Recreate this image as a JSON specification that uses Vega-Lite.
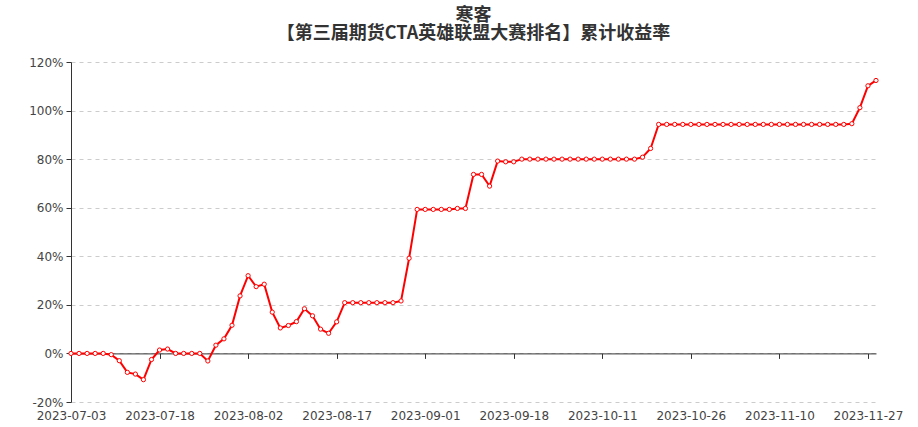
{
  "$schema": "https://vega.github.io/schema/vega-lite/v6.json",
  "width": 805,
  "height": 340,
  "autosize": {"type": "none"},
  "padding": {"left": 71, "top": 62, "right": 42, "bottom": 25},
  "background": "white",
  "title": {
    "text": ["寒客", "【第三届期货CTA英雄联盟大赛排名】累计收益率"],
    "font": "Noto Sans CJK SC",
    "fontSize": 18,
    "fontWeight": "bold",
    "lineHeight": 18,
    "color": "#333333",
    "anchor": "middle",
    "frame": "group",
    "offset": 13.5
  },
  "config": {
    "view": {"stroke": null},
    "axis": {"labelFont": "DejaVu Sans", "labelFontSize": 12, "labelColor": "#444444"}
  },
  "data": {
    "values": [
      {"date": "2023-07-03", "v": 0},
      {"date": "2023-07-04", "v": 0},
      {"date": "2023-07-05", "v": 0},
      {"date": "2023-07-06", "v": 0},
      {"date": "2023-07-07", "v": 0},
      {"date": "2023-07-10", "v": -0.5},
      {"date": "2023-07-11", "v": -3.0},
      {"date": "2023-07-12", "v": -7.8},
      {"date": "2023-07-13", "v": -8.5},
      {"date": "2023-07-14", "v": -10.8},
      {"date": "2023-07-17", "v": -2.5},
      {"date": "2023-07-18", "v": 1.4},
      {"date": "2023-07-19", "v": 1.8},
      {"date": "2023-07-20", "v": 0},
      {"date": "2023-07-21", "v": 0},
      {"date": "2023-07-24", "v": 0},
      {"date": "2023-07-25", "v": 0},
      {"date": "2023-07-26", "v": -3.1},
      {"date": "2023-07-27", "v": 3.4},
      {"date": "2023-07-28", "v": 6.0},
      {"date": "2023-07-31", "v": 11.6},
      {"date": "2023-08-01", "v": 23.7},
      {"date": "2023-08-02", "v": 32.0},
      {"date": "2023-08-03", "v": 27.5},
      {"date": "2023-08-04", "v": 28.5},
      {"date": "2023-08-07", "v": 17.0},
      {"date": "2023-08-08", "v": 10.5},
      {"date": "2023-08-09", "v": 11.5},
      {"date": "2023-08-10", "v": 13.1},
      {"date": "2023-08-11", "v": 18.4},
      {"date": "2023-08-14", "v": 15.5},
      {"date": "2023-08-15", "v": 10.0},
      {"date": "2023-08-16", "v": 8.3},
      {"date": "2023-08-17", "v": 13.0},
      {"date": "2023-08-18", "v": 20.9},
      {"date": "2023-08-21", "v": 20.9},
      {"date": "2023-08-22", "v": 20.9},
      {"date": "2023-08-23", "v": 20.9},
      {"date": "2023-08-24", "v": 20.9},
      {"date": "2023-08-25", "v": 20.9},
      {"date": "2023-08-28", "v": 20.9},
      {"date": "2023-08-29", "v": 21.6},
      {"date": "2023-08-30", "v": 39.2},
      {"date": "2023-08-31", "v": 59.3},
      {"date": "2023-09-01", "v": 59.3},
      {"date": "2023-09-04", "v": 59.3},
      {"date": "2023-09-05", "v": 59.3},
      {"date": "2023-09-06", "v": 59.3},
      {"date": "2023-09-07", "v": 59.7},
      {"date": "2023-09-08", "v": 59.7},
      {"date": "2023-09-11", "v": 73.7},
      {"date": "2023-09-12", "v": 73.7},
      {"date": "2023-09-13", "v": 68.9},
      {"date": "2023-09-14", "v": 79.2},
      {"date": "2023-09-15", "v": 78.9},
      {"date": "2023-09-18", "v": 78.9},
      {"date": "2023-09-19", "v": 80.0},
      {"date": "2023-09-20", "v": 80.0},
      {"date": "2023-09-21", "v": 80.0},
      {"date": "2023-09-22", "v": 80.0},
      {"date": "2023-09-25", "v": 80.0},
      {"date": "2023-09-26", "v": 80.0},
      {"date": "2023-09-27", "v": 80.0},
      {"date": "2023-09-28", "v": 80.0},
      {"date": "2023-10-09", "v": 80.0},
      {"date": "2023-10-10", "v": 80.0},
      {"date": "2023-10-11", "v": 80.0},
      {"date": "2023-10-12", "v": 80.0},
      {"date": "2023-10-13", "v": 80.0},
      {"date": "2023-10-16", "v": 80.0},
      {"date": "2023-10-17", "v": 80.0},
      {"date": "2023-10-18", "v": 80.8},
      {"date": "2023-10-19", "v": 84.4},
      {"date": "2023-10-20", "v": 94.3},
      {"date": "2023-10-23", "v": 94.3},
      {"date": "2023-10-24", "v": 94.3},
      {"date": "2023-10-25", "v": 94.3},
      {"date": "2023-10-26", "v": 94.3},
      {"date": "2023-10-27", "v": 94.3},
      {"date": "2023-10-30", "v": 94.3},
      {"date": "2023-10-31", "v": 94.3},
      {"date": "2023-11-01", "v": 94.3},
      {"date": "2023-11-02", "v": 94.3},
      {"date": "2023-11-03", "v": 94.3},
      {"date": "2023-11-06", "v": 94.3},
      {"date": "2023-11-07", "v": 94.3},
      {"date": "2023-11-08", "v": 94.3},
      {"date": "2023-11-09", "v": 94.3},
      {"date": "2023-11-10", "v": 94.3},
      {"date": "2023-11-13", "v": 94.3},
      {"date": "2023-11-14", "v": 94.3},
      {"date": "2023-11-15", "v": 94.3},
      {"date": "2023-11-16", "v": 94.3},
      {"date": "2023-11-17", "v": 94.3},
      {"date": "2023-11-20", "v": 94.3},
      {"date": "2023-11-21", "v": 94.3},
      {"date": "2023-11-22", "v": 94.3},
      {"date": "2023-11-23", "v": 94.6},
      {"date": "2023-11-24", "v": 101.2},
      {"date": "2023-11-27", "v": 110.2},
      {"date": "2023-11-28", "v": 112.4}
    ]
  },
  "encoding": {
    "x": {
      "field": "date",
      "type": "ordinal",
      "sort": null,
      "scale": {"type": "point", "padding": 0},
      "axis": {
        "title": null,
        "labelExpr": "indexof(['2023-07-03','2023-07-18','2023-08-02','2023-08-17','2023-09-01','2023-09-18','2023-10-11','2023-10-26','2023-11-10','2023-11-27'], datum.value) >= 0 ? datum.label : ''",
        "tickOpacity": {"condition": {"test": "indexof(['2023-07-03','2023-07-18','2023-08-02','2023-08-17','2023-09-01','2023-09-18','2023-10-11','2023-10-26','2023-11-10','2023-11-27'], datum.value) >= 0", "value": 1}, "value": 0},
        "labelAngle": 0,
        "labelAlign": "center",
        "labelOverlap": false,
        "offset": -48.6,
        "domain": true,
        "domainColor": "#333333",
        "ticks": true,
        "tickColor": "#333333",
        "tickSize": 5,
        "labelPadding": 52,
        "labelBaseline": "top",
        "grid": false
      }
    },
    "y": {
      "field": "v",
      "type": "quantitative",
      "scale": {"domain": [-20, 120], "nice": false, "zero": false},
      "axis": {
        "title": null,
        "values": [-20, 0, 20, 40, 60, 80, 100, 120],
        "labelExpr": "datum.value + '%'",
        "domain": true,
        "domainColor": "#333333",
        "ticks": true,
        "tickColor": "#333333",
        "tickSize": 5,
        "labelPadding": 3,
        "grid": true,
        "gridColor": "#cccccc",
        "gridDash": [4, 4]
      }
    }
  },
  "layer": [
    {"mark": {"type": "line", "color": "#ff0000", "strokeWidth": 2}},
    {"mark": {"type": "point", "shape": "circle", "filled": true, "fill": "white", "stroke": "#ff0000", "strokeWidth": 1, "size": 18, "opacity": 1}}
  ]
}
